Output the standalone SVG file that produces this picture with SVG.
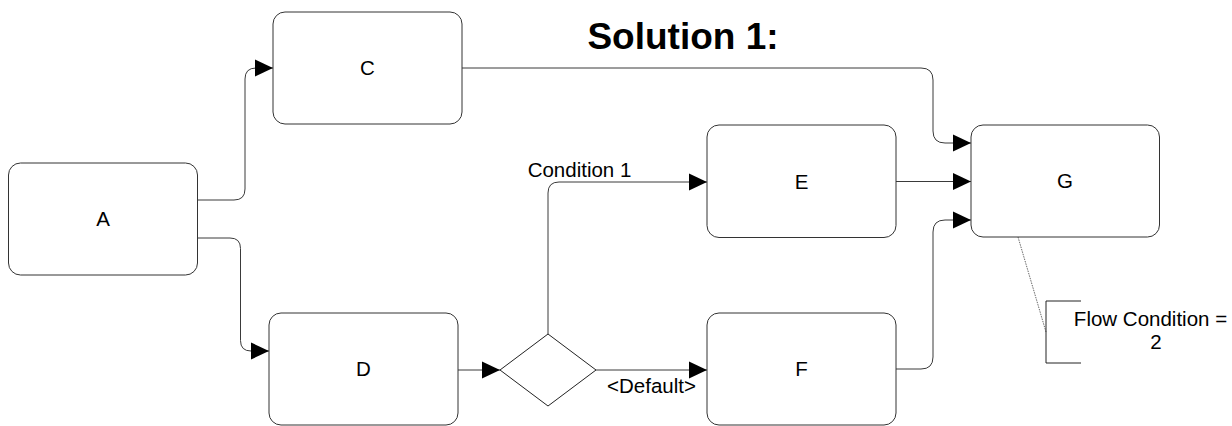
<svg xmlns="http://www.w3.org/2000/svg" width="1232" height="426" viewBox="0 0 1232 426">
<style>
.box{fill:#fff;stroke:#333;stroke-width:1}
.lbl{font-family:"Liberation Sans",Arial,sans-serif;font-size:20.5px;fill:#000;text-anchor:middle}
.conn{fill:none;stroke:#3a3a3a;stroke-width:1}
.title{font-family:"Liberation Sans",Arial,sans-serif;font-size:37px;font-weight:bold;fill:#000;text-anchor:middle}
</style>
<defs>
<marker id="arr" markerUnits="userSpaceOnUse" markerWidth="18" markerHeight="18" refX="18" refY="8.5" orient="auto" viewBox="0 0 18 17">
<path d="M0,0 L18,8.5 L0,17 Z" fill="#000"/>
</marker>
</defs>
<rect width="1232" height="426" fill="#fff"/>
<text class="title" x="683" y="49">Solution 1:</text>
<g id="connectors">
<path class="conn" d="M198,200 H234 Q245,200 245,189 V79 Q245,68 256,68 H273" marker-end="url(#arr)"/>
<path class="conn" d="M198,238 H230 Q240.5,238 240.5,248.5 V340.5 Q240.5,351 251,351 H269" marker-end="url(#arr)"/>
<path class="conn" d="M458,370 H500" marker-end="url(#arr)"/>
<path class="conn" d="M548,334 V193 Q548,182 559,182 H707" marker-end="url(#arr)"/>
<path class="conn" d="M596,370 H707" marker-end="url(#arr)"/>
<path class="conn" d="M462,68 H921 Q933,68 933,80 V131 Q933,143 945,143 H971" marker-end="url(#arr)"/>
<path class="conn" d="M896,181.5 H971" marker-end="url(#arr)"/>
<path class="conn" d="M896,369 H921 Q933,369 933,357 V232 Q933,220 945,220 H971" marker-end="url(#arr)"/>
<path d="M1018,237 L1046,332" fill="none" stroke="#444" stroke-width="0.8" stroke-dasharray="1.5,1"/>
</g>
<g id="A"><rect class="box" x="8.5" y="163" width="189" height="112" rx="12"/><text class="lbl" x="103" y="226">A</text></g>
<g id="C"><rect class="box" x="273" y="12" width="189" height="112" rx="12"/><text class="lbl" x="367.5" y="75">C</text></g>
<g id="D"><rect class="box" x="269" y="313" width="189" height="112" rx="12"/><text class="lbl" x="363.5" y="376">D</text></g>
<g id="gateway"><polygon points="500,370 548,334 596,370 548,406" fill="#fff" stroke="#222" stroke-width="1"/></g>
<g id="E"><rect class="box" x="707" y="125" width="189" height="112.5" rx="12"/><text class="lbl" x="801.5" y="188.5">E</text></g>
<g id="F"><rect class="box" x="707" y="313" width="189" height="112" rx="12"/><text class="lbl" x="801.5" y="376">F</text></g>
<g id="G"><rect class="box" x="971" y="125" width="188.5" height="112" rx="12"/><text class="lbl" x="1065" y="188">G</text></g>
<g id="labels">
<text class="lbl" x="579.5" y="177">Condition 1</text>
<text class="lbl" x="651.5" y="393">&lt;Default&gt;</text>
</g>
<g id="annotation">
<path d="M1081,301 H1046 V363 H1081" fill="none" stroke="#222" stroke-width="1"/>
<text class="lbl" x="1150.5" y="326">Flow Condition =</text>
<text class="lbl" x="1156" y="349">2</text>
</g>
</svg>
